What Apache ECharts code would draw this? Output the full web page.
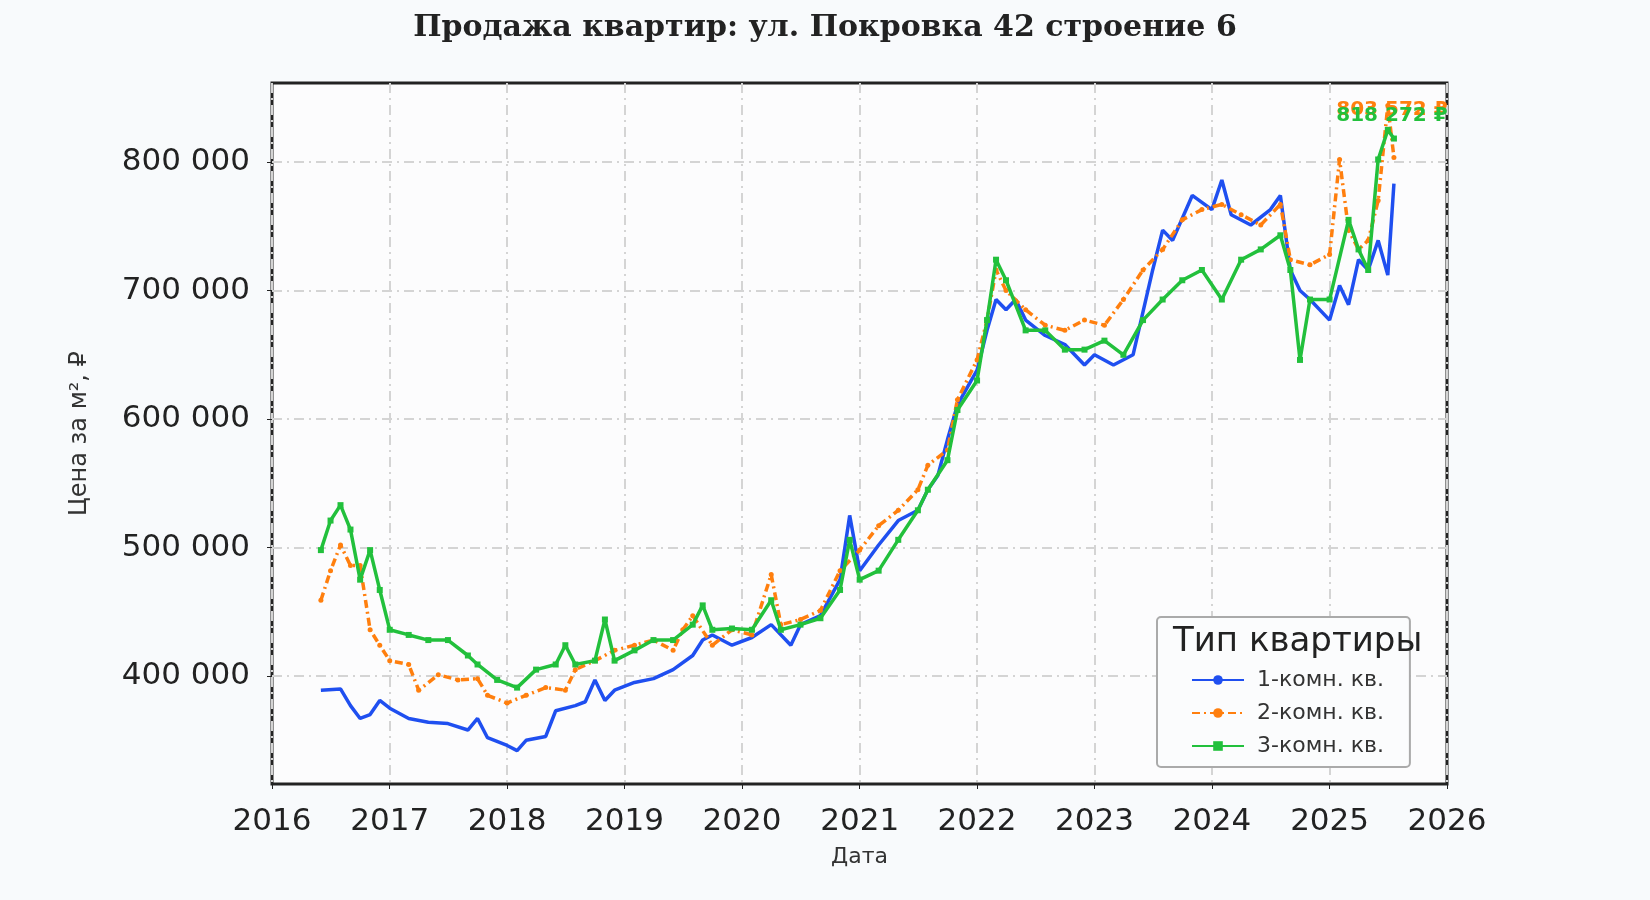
<!DOCTYPE html>
<html>
<head>
<meta charset="utf-8">
<script src="https://cdn.jsdelivr.net/npm/echarts@6/dist/echarts.min.js"></script>
<style>
  html, body { margin: 0; padding: 0; background: #f8fafc; }
  #chart { width: 1650px; height: 900px; }
</style>
</head>
<body>
<div id="chart"></div>
<script>
// значения в тыс. ₽ за м²
const dates1 = ['2016-06','2016-08','2016-09','2016-10','2016-11','2016-12','2017-01','2017-03','2017-05','2017-07','2017-09','2017-10','2017-11','2018-01','2018-02','2018-03','2018-05','2018-06','2018-08','2018-09','2018-10','2018-11','2018-12','2019-02','2019-04','2019-06','2019-08','2019-09','2019-10','2019-12','2020-02','2020-04','2020-06','2020-07','2020-09','2020-11','2020-12','2021-01','2021-03','2021-05','2021-07','2021-08','2021-09','2021-10','2021-11','2022-01','2022-02','2022-03','2022-04','2022-05','2022-06','2022-08','2022-10','2022-12','2023-01','2023-03','2023-05','2023-07','2023-08','2023-09','2023-11','2024-01','2024-02','2024-03','2024-05','2024-07','2024-08','2024-09','2024-10','2024-11','2025-01','2025-02','2025-03','2025-04','2025-05','2025-06','2025-07','2025-07-20'];
const room1 = [389,390,377,367,370,381,375,367,364,363,358,367,352,346,342,350,353,373,377,380,397,381,389,395,398,405,416,428,432,424,430,440,424,440,447,475,525,482,502,521,529,545,556,584,611,638,669,693,685,693,677,665,658,642,650,642,650,716,747,739,774,763,786,759,751,763,774,716,700,693,677,704,689,724,716,739,712,783.11];

const dates2 = ['2016-06','2016-07','2016-08','2016-09','2016-10','2016-11','2016-12','2017-01','2017-03','2017-04','2017-06','2017-08','2017-10','2017-11','2018-01','2018-03','2018-05','2018-07','2018-08','2018-10','2018-12','2019-02','2019-04','2019-06','2019-07','2019-08','2019-10','2019-12','2020-02','2020-04','2020-05','2020-07','2020-09','2020-11','2021-01','2021-03','2021-05','2021-07','2021-08','2021-10','2021-11','2022-01','2022-02','2022-03','2022-04','2022-06','2022-08','2022-10','2022-12','2023-02','2023-04','2023-06','2023-08','2023-10','2023-12','2024-02','2024-04','2024-06','2024-08','2024-09','2024-11','2025-01','2025-02','2025-03','2025-04','2025-05','2025-06','2025-07','2025-07-20'];
const room2 = [459,482,502,486,486,436,424,412,409,389,401,397,398,385,379,385,391,389,405,412,420,424,428,420,436,447,424,436,432,479,440,444,451,482,498,517,529,545,564,576,615,646,677,716,700,685,673,669,677,673,693,716,732,755,763,767,759,751,767,724,720,728,802,747,732,739,770,844,803.572];

const dates3 = ['2016-06','2016-07','2016-08','2016-09','2016-10','2016-11','2016-12','2017-01','2017-03','2017-05','2017-07','2017-09','2017-10','2017-12','2018-02','2018-04','2018-06','2018-07','2018-08','2018-10','2018-11','2018-12','2019-02','2019-04','2019-06','2019-08','2019-09','2019-10','2019-12','2020-02','2020-04','2020-05','2020-07','2020-09','2020-11','2020-12','2021-01','2021-03','2021-05','2021-07','2021-08','2021-10','2021-11','2022-01','2022-02','2022-03','2022-04','2022-06','2022-08','2022-10','2022-12','2023-02','2023-04','2023-06','2023-08','2023-10','2023-12','2024-02','2024-04','2024-06','2024-08','2024-09','2024-10','2024-11','2025-01','2025-03','2025-04','2025-05','2025-06','2025-07','2025-07-20'];
const room3 = [498,521,533,514,475,498,467,436,432,428,428,416,409,397,391,405,409,424,409,412,444,412,420,428,428,440,455,436,437,436,459,436,440,445,467,506,475,482,506,529,545,568,607,630,677,724,708,669,669,654,654,661,650,677,693,708,716,693,724,732,743,716,646,693,693,755,732,716,802,825,818.272];

const yTicks = [400000, 500000, 600000, 700000, 800000];
const xTicks = ['2016','2017','2018','2019','2020','2021','2022','2023','2024','2025','2026'];
const seriesNames = ['1-комн. кв.', '2-комн. кв.', '3-комн. кв.'];
const colors = ['#1f4ff0', '#ff7f0e', '#22c03c'];

const ts = s => +new Date(s.length === 7 ? s + '-01' : s);
const toPairs = (d, v) => d.map((t, i) => [ts(t), Math.round(v[i] * 1000)]);
const fmt = v => Math.round(v).toString().replace(/\B(?=(\d{3})+(?!\d))/g, ' ');
const xTickVals = xTicks.map(y => ts(y + '-01-01'));

const chart = echarts.init(document.getElementById('chart'));
const grid = '#d4d4d4';
const dashDot = [10, 5, 2, 5];

function makeSeries(i, dates, vals, extra, labelOffset) {
  const data = toPairs(dates, vals);
  data[data.length - 1] = {
    value: data[data.length - 1],
    label: {
      show: true, position: 'top', offset: labelOffset,
      formatter: p => fmt(p.value[1]) + ' ₽',
      color: colors[i], fontWeight: 'bold', fontSize: 20, fontFamily: 'DejaVu Sans'
    }
  };
  return Object.assign({
    name: seriesNames[i], type: 'line', data,
    itemStyle: { color: colors[i] },
    lineStyle: { color: colors[i], width: 3.5 },
    symbol: 'none', z: 3 + i
  }, extra);
}

chart.setOption({
  backgroundColor: '#f8fafc',
  animation: false,
  title: [
    { text: 'Продажа квартир: ул. Покровка 42 строение 6', left: 'center', top: 8,
      textStyle: { fontFamily: 'DejaVu Serif', fontWeight: 'bold', fontSize: 30, color: '#222' } },
    { text: 'Тип квартиры', left: 1168, top: 620,
      textStyle: { fontFamily: 'DejaVu Sans', fontWeight: 'normal', fontSize: 34, color: '#222' } }
  ],
  legend: {
    data: seriesNames, orient: 'vertical', left: 1157, top: 617,
    padding: [52, 26, 10, 34], itemGap: 11, itemWidth: 52, itemHeight: 12,
    backgroundColor: '#fbfcfd', borderColor: '#aaa', borderWidth: 2, borderRadius: 4,
    textStyle: { fontFamily: 'DejaVu Sans', fontSize: 22, color: '#333', padding: [0, 0, 0, 8] }
  },
  grid: { left: 272, right: 203, top: 83, bottom: 116, show: true, backgroundColor: '#fcfcfd',
    borderColor: '#222', borderWidth: 3 },
  xAxis: {
    type: 'value', min: xTickVals[0], max: xTickVals[xTickVals.length - 1],
    name: 'Дата', nameLocation: 'middle', nameGap: 62,
    nameTextStyle: { fontFamily: 'DejaVu Sans', fontSize: 22, color: '#333' },
    axisLine: { show: false },
    axisTick: { show: true, customValues: xTickVals, length: 5, lineStyle: { color: '#222' } },
    axisLabel: { customValues: xTickVals, formatter: v => new Date(v).getFullYear(), margin: 22,
      fontFamily: 'DejaVu Sans', fontSize: 31, color: '#222', showMinLabel: true, showMaxLabel: true },
    splitLine: { show: true, lineStyle: { color: grid, width: 2, type: dashDot } }
  },
  yAxis: {
    type: 'value', min: 316000, max: 861500,
    name: 'Цена за м², ₽', nameLocation: 'middle', nameGap: 180, nameRotate: 90,
    nameTextStyle: { fontFamily: 'DejaVu Sans', fontSize: 24, color: '#333' },
    axisLine: { show: false },
    axisTick: { show: true, customValues: yTicks, length: 5, lineStyle: { color: '#222' } },
    axisLabel: { customValues: yTicks, formatter: fmt, margin: 22,
      fontFamily: 'DejaVu Sans', fontSize: 31, color: '#222' },
    splitLine: { show: true, lineStyle: { color: grid, width: 2, type: dashDot } }
  },
  series: [
    makeSeries(0, dates1, room1, {}, [-2, -22]),
    makeSeries(1, dates2, room2, {
      lineStyle: { color: colors[1], width: 3.5, type: [8, 4, 2, 4] },
      symbol: 'circle', symbolSize: 5, showSymbol: true
    }, [-2, -30]),
    makeSeries(2, dates3, room3, {
      symbol: 'rect', symbolSize: 6, showSymbol: true
    }, [-2, -5])
  ]
});
</script>
</body>
</html>
